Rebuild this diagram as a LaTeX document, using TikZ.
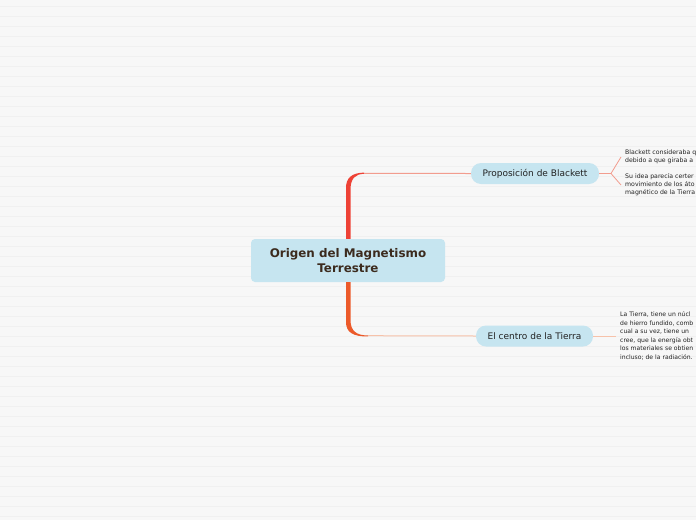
\documentclass[tikz,border=0pt]{standalone}
\usepackage{fontspec}
\setmainfont{DejaVu Sans}
\definecolor{bgc}{HTML}{F7F7F7}
\definecolor{stripec}{HTML}{F0F0F0}
\definecolor{nodeblue}{HTML}{C6E5F0}
\definecolor{maintext}{HTML}{3C2B1E}
\definecolor{notetext}{HTML}{222222}
\definecolor{redb}{HTML}{EE4236}
\definecolor{orangeb}{HTML}{EC5A2A}
\definecolor{topline}{HTML}{F29C8E}
\definecolor{botline}{HTML}{F6C2AA}
\begin{document}
\begin{tikzpicture}[x=1pt,y=-1pt,
  mainnode/.style={fill=nodeblue, rounded corners=4pt, minimum width=194pt, minimum height=43pt, align=center, inner sep=0pt, text=maintext, font=\fontsize{11.9}{15}\selectfont\bfseries},
  topic/.style={fill=nodeblue, rounded corners=10pt, minimum height=21pt, inner sep=0pt, text=notetext, font=\fontsize{9}{11}\selectfont},
  note/.style={anchor=west, align=left, inner sep=0pt, text=notetext, font=\fontsize{6.1}{8.5}\selectfont},
  stripe/.style={draw=stripec, line width=0.8pt},
  thinline/.style={line width=1pt}
]
\useasboundingbox (0,0) rectangle (696,520);
\clip (0,0) rectangle (696,520);
\fill[bgc] (0,0) rectangle (696,520);
\foreach \y in {6,16,...,516} \draw[stripe] (0,\y) -- (696,\y);

% nodes
\node[mainnode] (main) at (348,260.5) {Origen del Magnetismo\\Terrestre};
\node[topic, minimum width=128pt] (bl) at (535,173.5) {Proposición de Blackett};
\node[topic, minimum width=117pt] (ti) at (534.5,336) {El centro de la Tierra};
\node[note, font=\fontsize{6.2}{8}\selectfont] (n1) at (625,157) {Blackett consideraba q\\debido a que giraba a};
\node[note, font=\fontsize{6.2}{8}\selectfont] (n2) at (625,185) {Su idea parecía certer\\movimiento de los áto\\magnético de la Tierra};
\node[note] (n3) at (620,336) {La Tierra, tiene un núcl\\de hierro fundido, comb\\cual a su vez, tiene un\\cree, que la energía obt\\los materiales se obtien\\incluso; de la radiación.};

% main branches (tapered)
\fill[redb] ([xshift=-2pt]main.north) -- ++(0,-51)
  .. controls ++(0,-10) and ++(-12,0.2) .. ++(18,-15.2) -- ++(0,1.2)
  .. controls ++(-9,0.2) and ++(0,-11) .. ++(-13.5,16) -- ([xshift=2.5pt]main.north) -- cycle;
\coordinate (tc) at (364,173.4);
\draw[topline, thinline] (tc) -- (bl.west);

\fill[orangeb] ([xshift=-2pt]main.south) -- ++(0,40)
  .. controls ++(0,10) and ++(-15,0.3) .. ++(22,14.2) -- ++(0,-1)
  .. controls ++(-11,0.2) and ++(0,11) .. ++(-17.5,-15.2) -- ([xshift=2.5pt]main.south) -- cycle;
\coordinate (bc) at (368,335.7);
\draw[botline, thinline] (bc) -- (ti.west);

% sub-branches
\coordinate (fork) at (611,173.5);
\draw[topline, line width=0.8pt] (bl.east) -- (fork) -- ([xshift=-4pt]n1.west);
\draw[topline, line width=0.8pt] (fork) -- ([xshift=-4pt]n2.west);
\draw[botline, thinline] (ti.east) -- ([xshift=-4pt]n3.west);
\end{tikzpicture}
\end{document}
